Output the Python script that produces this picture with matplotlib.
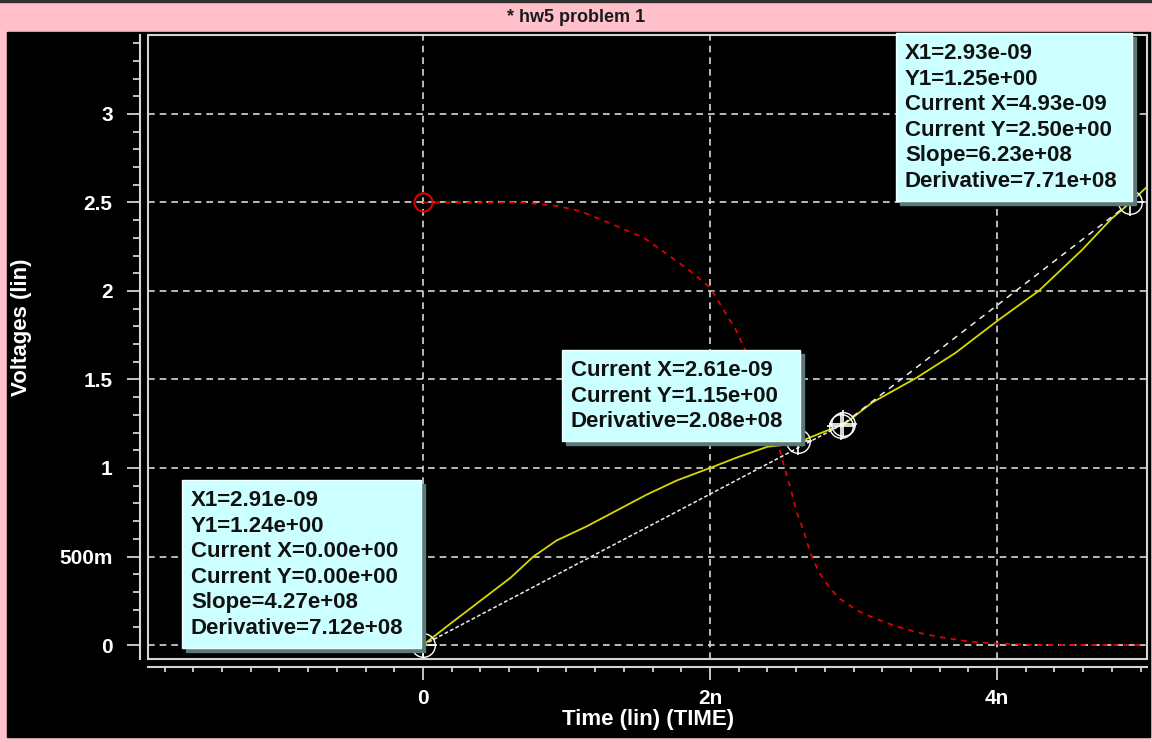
import matplotlib.pyplot as plt
import matplotlib.patches as patches
from matplotlib.ticker import MultipleLocator

W, H = 1152, 742

# waveforms (time in ns, volts)
out_t = [0.0, 0.19, 0.4, 0.61, 0.77, 0.93, 1.14, 1.35, 1.56, 1.77, 2.0, 2.19, 2.4, 2.51,
         2.63, 2.78, 2.94, 3.13, 3.44, 3.71, 4.0, 4.17, 4.29, 4.59, 4.8, 4.93, 5.04]
out_v = [0.0, 0.12, 0.25, 0.38, 0.5, 0.59, 0.67, 0.76, 0.85, 0.93, 1.0, 1.06, 1.12, 1.13,
         1.15, 1.2, 1.25, 1.37, 1.51, 1.65, 1.83, 1.93, 2.0, 2.23, 2.41, 2.5, 2.585]

in_t = [0.0, 0.5, 0.7, 0.94, 1.1, 1.31, 1.54, 1.68, 1.85, 2.0, 2.18, 2.34, 2.45, 2.49, 2.52,
        2.56, 2.6, 2.65, 2.7, 2.76, 2.82, 2.89, 2.96, 3.04, 3.12, 3.2, 3.28, 3.45, 3.6,
        3.8, 4.0, 4.3, 5.04]
in_v = [2.5, 2.5, 2.5, 2.48, 2.45, 2.38, 2.30, 2.22, 2.12, 2.02, 1.78, 1.5, 1.2, 1.09, 1.0,
        0.89, 0.76, 0.65, 0.52, 0.41, 0.34, 0.27, 0.23, 0.19, 0.16, 0.135, 0.11, 0.07, 0.045,
        0.02, 0.008, 0.0, 0.0]

# cursor pairs
cur1_t = [0.0, 2.91]
cur1_v = [0.0, 1.24]
cur2_t = [2.93, 4.93]
cur2_v = [1.25, 2.50]
mark_t = [0.0, 2.61, 2.91, 2.93, 4.93]
mark_v = [0.0, 1.15, 1.24, 1.25, 2.50]
red_t = [0.0]
red_v = [2.5]

xticks = [0, 2, 4]
xlabels = ["0", "2n", "4n"]
yticks = [0, 0.5, 1, 1.5, 2, 2.5, 3]
ylabels = ["0", "500m", "1", "1.5", "2", "2.5", "3"]

box_top = ["X1=2.93e-09", "Y1=1.25e+00", "Current X=4.93e-09", "Current Y=2.50e+00",
           "Slope=6.23e+08", "Derivative=7.71e+08"]
box_mid = ["Current X=2.61e-09", "Current Y=1.15e+00", "Derivative=2.08e+08"]
box_low = ["X1=2.91e-09", "Y1=1.24e+00", "Current X=0.00e+00", "Current Y=0.00e+00",
           "Slope=4.27e+08", "Derivative=7.12e+08"]

FONT = "Liberation Sans"
FG = "#d4d4d4"


def fx(px):
    return px / W


def fy(py):
    return 1 - py / H


fig = plt.figure(figsize=(W / 100, H / 100), dpi=100, facecolor="#ffc0cb")

# window chrome
fig.add_artist(patches.Rectangle((0, fy(2)), 1, fy(0) - fy(2), transform=fig.transFigure,
                                 color="#303030", zorder=0))
fig.add_artist(patches.Rectangle((fx(7), fy(737)), fx(1150) - fx(7), fy(32) - fy(737),
                                 transform=fig.transFigure, color="black", zorder=0))
fig.text(fx(576), fy(17), "* hw5 problem 1", ha="center", va="center",
         family=FONT, weight="bold", fontsize=13, color="#1a1a1a")

ax = fig.add_axes([fx(148), fy(659), fx(1147) - fx(148), fy(35) - fy(659)])
ax.set_facecolor("black")
ax.set_xlim(-1.916, 5.045)
ax.set_ylim(-0.079, 3.446)

for s in ["top", "right"]:
    ax.spines[s].set_visible(False)
for s in ["left", "bottom"]:
    ax.spines[s].set_position(("outward", 6))
    ax.spines[s].set_color(FG)
    ax.spines[s].set_linewidth(1.5)
ax.add_patch(patches.Rectangle((0, 0), 1, 1, transform=ax.transAxes, fill=False,
                               ec=FG, lw=1.5, clip_on=False, zorder=5))

ax.set_xticks(xticks, xlabels)
ax.set_yticks(yticks, ylabels)
ax.xaxis.set_minor_locator(MultipleLocator(0.2))
ax.yaxis.set_minor_locator(MultipleLocator(0.1))
ax.tick_params(axis="x", which="major", length=9.4, width=1.3, color=FG, pad=6)
ax.tick_params(axis="x", which="minor", length=3.6, width=1.3, color=FG)
ax.tick_params(axis="y", which="major", length=9.4, width=1.3, color=FG, pad=10)
ax.tick_params(axis="y", which="minor", length=5, width=1.3, color=FG)
for lab in ax.get_xticklabels() + ax.get_yticklabels():
    lab.set_family(FONT)
    lab.set_weight("bold")
    lab.set_fontsize(15)
    lab.set_color("white")

ax.grid(which="major", color="#d8d8d8", ls=(0, (4, 3)), lw=1.2, zorder=1)
ax.set_axisbelow(True)

ax.plot(in_t, in_v, color="#e00000", lw=1.3, ls=(0, (3, 3)), zorder=3)
ax.plot(out_t, out_v, color="#d8d800", lw=1.3, zorder=3)
ax.plot(cur1_t, cur1_v, color="#ececec", lw=1.1, ls=(0, (2.5, 1.5)), zorder=3)
ax.plot(cur2_t, cur2_v, color="#ececec", lw=1.1, ls=(0, (4, 3.5)), zorder=3)

ax.plot(mark_t, mark_v, "o", mfc="none", mec="white", ms=17, mew=1.0, zorder=4)
ax.plot(mark_t, mark_v, "+", mec="white", ms=20, mew=1.2, zorder=4)
ax.plot(red_t, red_v, "o", mfc="none", mec="#e00000", ms=13, mew=1.5, zorder=4)


def draw_box(left, top, width, lines):
    step = 25.6
    height = step * len(lines) + 14
    fig.add_artist(patches.Rectangle((fx(left + 4), fy(top + height + 4)), fx(width), height / H,
                                     transform=fig.transFigure, color="#5a7a7a", zorder=10))
    fig.add_artist(patches.Rectangle((fx(left), fy(top + height)), fx(width), height / H,
                                     transform=fig.transFigure, fc="#ccffff", ec="#f0ffff",
                                     lw=1, zorder=11))
    for i, line in enumerate(lines):
        fig.text(fx(left + 9), fy(top + 20.5 + i * step), line, ha="left", va="center",
                 family=FONT, weight="bold", fontsize=16, color="#111111", zorder=12)


draw_box(896, 33, 236, box_top)
draw_box(562, 350, 238, box_mid)
draw_box(182, 480, 239, box_low)

fig.text(fx(648), fy(720), "Time (lin) (TIME)", ha="center", va="center",
         family=FONT, weight="bold", fontsize=16, color="white")
fig.text(fx(22), fy(327), "Voltages (lin)", ha="center", va="center", rotation=90,
         family=FONT, weight="bold", fontsize=16, color="white")

fig.savefig("out.png", dpi=100, facecolor=fig.get_facecolor())
